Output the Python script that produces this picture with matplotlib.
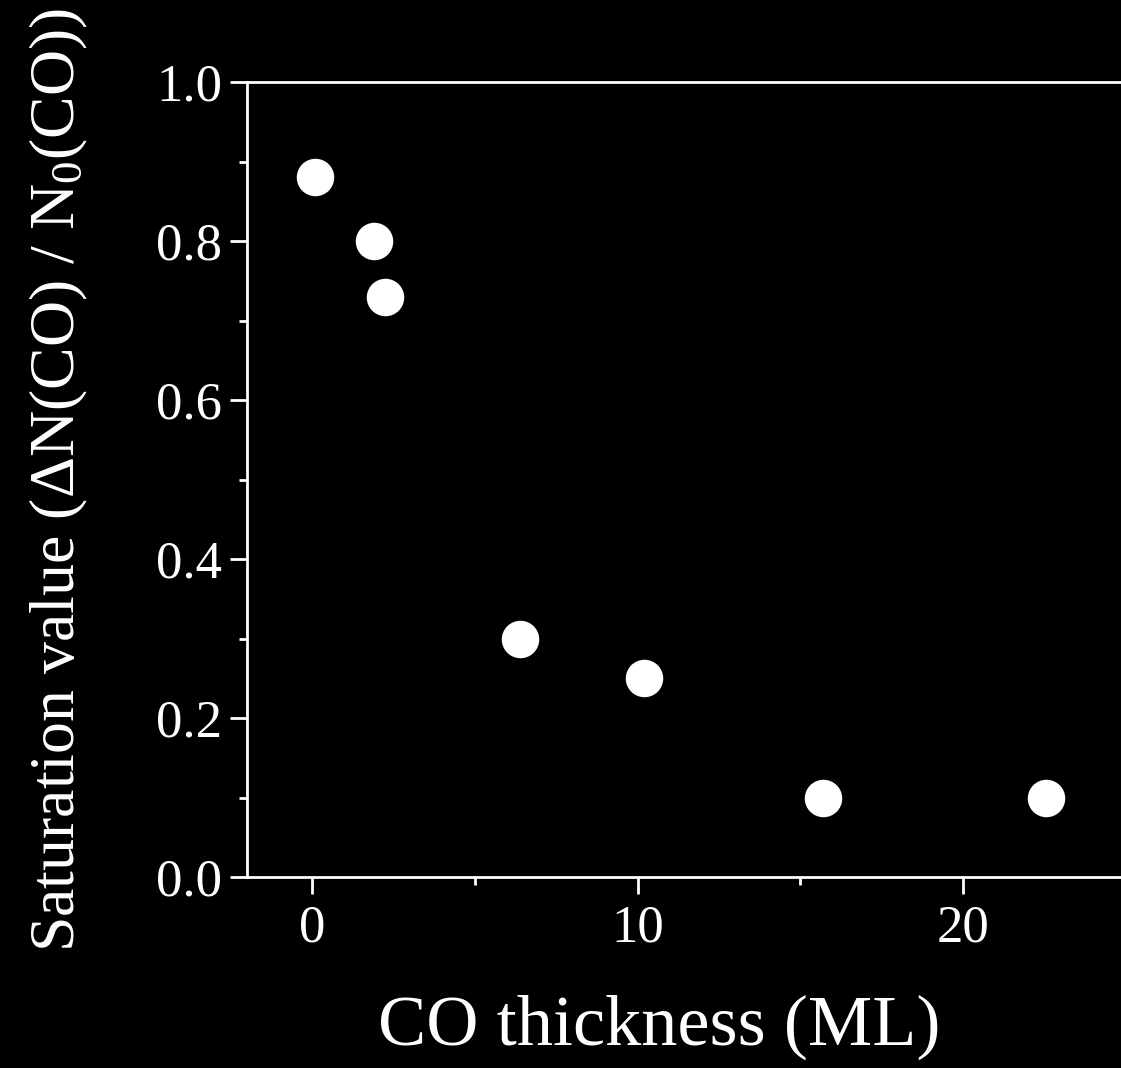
import matplotlib
matplotlib.use("Agg")
import matplotlib.pyplot as plt

# Datos
thickness = [0.1, 1.9, 2.25, 6.4, 10.2, 15.7, 22.55]
saturation = [0.88, 0.80, 0.73, 0.30, 0.25, 0.10, 0.10]

x_ticks = [0, 10, 20]
y_ticks = [0.0, 0.2, 0.4, 0.6, 0.8, 1.0]

plt.rcParams['font.family'] = ['Liberation Serif', 'DejaVu Serif']
plt.rcParams['mathtext.fontset'] = 'custom'
plt.rcParams['mathtext.rm'] = 'Liberation Serif'
plt.rcParams['mathtext.it'] = 'Liberation Serif:italic'

fig = plt.figure(figsize=(11.21, 10.68), dpi=100, facecolor='black')
ax = fig.add_axes([0.2203, 0.1788, 0.8711, 0.7444], facecolor='black')

ax.plot(thickness, saturation, 'o', color='white', markersize=27, markeredgewidth=0)

ax.set_xlim(-2, 28)
ax.set_ylim(0, 1.0)
ax.set_xticks(x_ticks)
ax.set_yticks(y_ticks)
ax.set_yticklabels([f"{v:.1f}" for v in y_ticks])
ax.set_xticks([5, 15, 25], minor=True)
ax.set_yticks([0.1, 0.3, 0.5, 0.7, 0.9], minor=True)

for s in ax.spines.values():
    s.set_color('white')
    s.set_linewidth(2)

ax.tick_params(which='both', direction='out', colors='white', width=2)
ax.tick_params(which='major', length=12, labelsize=38, pad=6)
ax.tick_params(which='minor', length=5.5)
ax.tick_params(axis='x', which='major', pad=8)

ax.set_xlabel('CO thickness (ML)', color='white', fontsize=52)
ax.set_ylabel(r'Saturation value (ΔN(CO) / N$_0$(CO))', color='white', fontsize=46)
ax.xaxis.set_label_coords(0.422, -0.148)
ax.yaxis.set_label_coords(-0.161, 0.5)

fig.savefig('out.png', dpi=100, facecolor='black')
